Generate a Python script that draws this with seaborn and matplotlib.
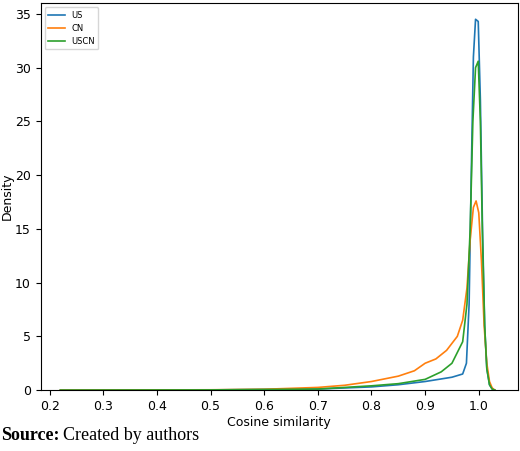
import numpy as np
import pandas as pd
import matplotlib
matplotlib.use('Agg')
import matplotlib.pyplot as plt
import seaborn as sns

# densidades (curvas KDE)
x_us = [0.22, 0.5, 0.7, 0.8, 0.85, 0.9, 0.95, 0.97, 0.977, 0.982, 0.986, 0.99, 0.994, 0.999, 1.003, 1.007, 1.011, 1.015, 1.02, 1.025, 1.03]
y_us = [0.0, 0.02, 0.1, 0.3, 0.5, 0.8, 1.2, 1.5, 2.5, 8.0, 20.0, 31.0, 34.5, 34.3, 27.0, 15.0, 6.0, 2.0, 0.5, 0.1, 0.0]

x_cn = [0.22, 0.5, 0.6, 0.7, 0.75, 0.8, 0.85, 0.88, 0.9, 0.92, 0.94, 0.96, 0.97, 0.978, 0.984, 0.99, 0.995, 1.0, 1.005, 1.01, 1.015, 1.02, 1.025, 1.03]
y_cn = [0.0, 0.03, 0.08, 0.25, 0.45, 0.8, 1.3, 1.8, 2.5, 2.9, 3.7, 5.0, 6.5, 9.5, 14.0, 17.0, 17.6, 16.5, 12.0, 6.0, 2.5, 0.8, 0.2, 0.0]

x_uscn = [0.22, 0.5, 0.7, 0.8, 0.85, 0.9, 0.93, 0.95, 0.97, 0.978, 0.984, 0.989, 0.994, 0.999, 1.003, 1.007, 1.011, 1.015, 1.02, 1.025, 1.03]
y_uscn = [0.0, 0.02, 0.1, 0.4, 0.6, 1.0, 1.7, 2.5, 4.5, 8.0, 15.0, 25.0, 30.0, 30.6, 25.0, 14.0, 6.0, 2.0, 0.5, 0.1, 0.0]

series = {'US': (x_us, y_us), 'CN': (x_cn, y_cn), 'USCN': (x_uscn, y_uscn)}
cores = ['#1f77b4', '#ff7f0e', '#2ca02c']

fig = plt.figure(figsize=(5.2, 4.51), dpi=100)
ax = fig.add_axes([0.078, 0.135, 0.918, 0.858])

for (nome, (xs, ys)), cor in zip(series.items(), cores):
    sns.lineplot(x=xs, y=ys, ax=ax, color=cor, label=nome, linewidth=1.2)

ax.set_xlim(0.183, 1.073)
ax.set_ylim(0, 36)
ax.set_xticks(np.arange(0.2, 1.01, 0.1))
ax.set_xlabel('Cosine similarity', fontsize=9, labelpad=2)
ax.set_ylabel('Density', fontsize=9, labelpad=1)
ax.tick_params(labelsize=9)
ax.legend(loc='upper left', fontsize=6, frameon=True)

fig.text(0.003, 0.025, 'Source:', fontsize=13, fontweight='bold', family='Liberation Serif')
fig.text(0.122, 0.025, 'Created by authors', fontsize=13, family='Liberation Serif')

fig.savefig('out.png', dpi=100)
